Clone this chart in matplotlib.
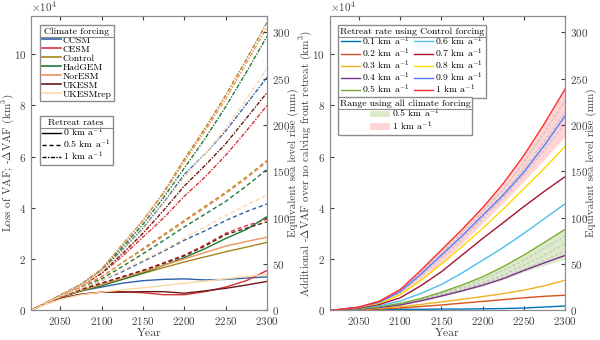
import matplotlib
matplotlib.use('Agg')
import matplotlib.pyplot as plt
from matplotlib.patches import Patch
from matplotlib.lines import Line2D
import numpy as np

plt.rcParams['font.family'] = 'serif'
plt.rcParams['font.serif'] = ['cmr10']
plt.rcParams['mathtext.fontset'] = 'cm'
plt.rcParams['axes.formatter.use_mathtext'] = True
plt.rcParams['axes.unicode_minus'] = False

years = [2015, 2025, 2050, 2075, 2100, 2125, 2150, 2175, 2200, 2225, 2250, 2275, 2300]
km3_per_mm = 362.0

forcings = ['CCSM', 'CESM', 'Control', 'HadGEM', 'NorESM', 'UKESM', 'UKESMrep']
forcing_colors = ['#2f62a8', '#d8333a', '#a8841c', '#1f7a34', '#f0955a', '#6a1a16', '#fdd7a2']

# loss of VAF (x1e4 km3), 0 km/a retreat
loss_0 = {
    'CCSM':     [0, 0.15, 0.50, 0.75, 0.90, 1.05, 1.15, 1.20, 1.22, 1.18, 1.20, 1.25, 1.30],
    'CESM':     [0, 0.15, 0.45, 0.62, 0.70, 0.72, 0.68, 0.60, 0.60, 0.72, 0.90, 1.15, 1.55],
    'Control':  [0, 0.15, 0.50, 0.75, 0.97, 1.20, 1.43, 1.66, 1.88, 2.08, 2.28, 2.46, 2.65],
    'HadGEM':   [0, 0.15, 0.50, 0.75, 0.95, 1.20, 1.45, 1.75, 2.05, 2.40, 2.80, 3.15, 3.65],
    'NorESM':   [0, 0.15, 0.50, 0.77, 1.00, 1.25, 1.50, 1.75, 2.00, 2.25, 2.50, 2.68, 2.85],
    'UKESM':    [0, 0.15, 0.45, 0.62, 0.70, 0.70, 0.72, 0.72, 0.66, 0.75, 0.85, 0.98, 1.12],
    'UKESMrep': [0, 0.13, 0.42, 0.60, 0.70, 0.79, 0.87, 0.96, 1.05, 1.13, 1.22, 1.31, 1.40],
}
# 0.5 km/a retreat
loss_05 = {
    'CCSM':     [0, 0.15, 0.52, 0.85, 1.15, 1.50, 1.90, 2.30, 2.73, 3.10, 3.50, 3.85, 4.15],
    'CESM':     [0, 0.15, 0.50, 0.80, 1.05, 1.30, 1.55, 1.85, 2.15, 2.55, 3.00, 3.30, 3.55],
    'Control':  [0, 0.15, 0.55, 0.90, 1.30, 1.85, 2.40, 2.95, 3.50, 4.05, 4.60, 5.20, 5.85],
    'HadGEM':   [0, 0.15, 0.55, 0.88, 1.22, 1.70, 2.20, 2.72, 3.25, 3.75, 4.25, 4.85, 5.50],
    'NorESM':   [0, 0.15, 0.55, 0.90, 1.30, 1.85, 2.35, 2.90, 3.45, 4.00, 4.55, 5.15, 5.80],
    'UKESM':    [0, 0.15, 0.50, 0.80, 1.05, 1.30, 1.55, 1.82, 2.12, 2.50, 2.95, 3.20, 3.45],
    'UKESMrep': [0, 0.15, 0.52, 0.85, 1.15, 1.55, 1.95, 2.35, 2.80, 3.25, 3.70, 4.10, 4.50],
}
# 1 km/a retreat
loss_1 = {
    'CCSM':     [0, 0.15, 0.56, 0.98, 1.55, 2.35, 3.20, 4.20, 5.30, 6.10, 7.00, 8.05, 9.10],
    'CESM':     [0, 0.15, 0.55, 0.95, 1.42, 2.10, 2.85, 3.60, 4.45, 5.20, 6.05, 7.00, 8.00],
    'Control':  [0, 0.15, 0.58, 1.00, 1.60, 2.55, 3.50, 4.60, 5.90, 7.10, 8.40, 9.80, 11.25],
    'HadGEM':   [0, 0.15, 0.57, 1.00, 1.58, 2.45, 3.35, 4.40, 5.55, 6.70, 7.95, 9.30, 10.70],
    'NorESM':   [0, 0.15, 0.58, 1.00, 1.60, 2.55, 3.50, 4.55, 5.80, 7.00, 8.25, 9.65, 11.05],
    'UKESM':    [0, 0.15, 0.55, 0.95, 1.45, 2.20, 3.00, 3.90, 4.85, 5.65, 6.50, 7.50, 8.50],
    'UKESMrep': [0, 0.15, 0.55, 0.95, 1.50, 2.30, 3.15, 4.15, 5.20, 6.10, 7.10, 8.25, 9.45],
}

# additional loss over no retreat, Control forcing (x1e4 km3)
rates = ['0.1', '0.2', '0.3', '0.4', '0.5', '0.6', '0.7', '0.8', '0.9', '1']
rate_colors = ['#0072bd', '#d95319', '#edb120', '#7e2f8e', '#77ac30',
               '#4dbeee', '#a2142f', '#ffd700', '#5b7cff', '#ff2a2a']
extra = {
    '0.1': [0, 0.00, 0.01, 0.02, 0.03, 0.03, 0.04, 0.04, 0.05, 0.06, 0.08, 0.12, 0.16],
    '0.2': [0, 0.00, 0.02, 0.04, 0.08, 0.14, 0.20, 0.27, 0.34, 0.41, 0.48, 0.54, 0.58],
    '0.3': [0, 0.01, 0.03, 0.07, 0.13, 0.22, 0.32, 0.42, 0.53, 0.64, 0.78, 0.95, 1.17],
    '0.4': [0, 0.01, 0.04, 0.10, 0.20, 0.36, 0.55, 0.75, 0.97, 1.23, 1.55, 1.85, 2.14],
    '0.5': [0, 0.01, 0.05, 0.13, 0.26, 0.45, 0.70, 0.98, 1.30, 1.70, 2.15, 2.65, 3.16],
    '0.6': [0, 0.01, 0.07, 0.17, 0.35, 0.65, 1.00, 1.45, 1.95, 2.45, 3.00, 3.58, 4.16],
    '0.7': [0, 0.01, 0.08, 0.22, 0.48, 0.95, 1.50, 2.15, 2.80, 3.42, 4.05, 4.65, 5.22],
    '0.8': [0, 0.02, 0.10, 0.27, 0.60, 1.15, 1.80, 2.48, 3.20, 3.95, 4.75, 5.55, 6.40],
    '0.9': [0, 0.02, 0.11, 0.31, 0.72, 1.40, 2.15, 2.90, 3.70, 4.50, 5.40, 6.45, 7.60],
    '1':   [0, 0.02, 0.12, 0.35, 0.80, 1.55, 2.35, 3.15, 4.00, 4.95, 6.05, 7.30, 8.65],
}
# range over all climate forcings
range05_low = [0, 0.01, 0.04, 0.10, 0.20, 0.35, 0.53, 0.73, 0.95, 1.20, 1.50, 1.75, 2.00]
range05_high = extra['0.5']
range05_members = [
    [0, 0.01, 0.05, 0.12, 0.24, 0.42, 0.65, 0.90, 1.20, 1.55, 1.95, 2.42, 2.90],
    [0, 0.01, 0.05, 0.11, 0.23, 0.40, 0.60, 0.83, 1.08, 1.38, 1.75, 2.15, 2.60],
    [0, 0.01, 0.04, 0.10, 0.22, 0.38, 0.57, 0.78, 1.02, 1.30, 1.60, 1.95, 2.30],
]
range1_low = [0, 0.02, 0.10, 0.27, 0.62, 1.20, 1.85, 2.60, 3.40, 4.20, 5.05, 5.90, 6.80]
range1_high = extra['1']
range1_members = [
    [0, 0.02, 0.11, 0.33, 0.76, 1.48, 2.25, 3.02, 3.85, 4.72, 5.78, 6.95, 8.20],
    [0, 0.02, 0.11, 0.32, 0.72, 1.40, 2.15, 2.90, 3.72, 4.55, 5.52, 6.60, 7.75],
    [0, 0.02, 0.10, 0.30, 0.68, 1.32, 2.02, 2.78, 3.58, 4.38, 5.30, 6.28, 7.30],
]

txt = '0.25'
edge = '0.55'
ymax = 11.5e4


def style(ax, axr, ylab, ylab_r, lx, rx):
    ax.set_xlim(2015, 2300)
    ax.set_ylim(0, ymax)
    ax.set_xticks([2050, 2100, 2150, 2200, 2250, 2300])
    ax.set_yticks(np.arange(0, 11e4, 2e4))
    ax.ticklabel_format(axis='y', style='sci', scilimits=(4, 4), useMathText=True)
    axr.set_ylim(0, ymax / km3_per_mm)
    axr.set_yticks(np.arange(0, 301, 50))
    ax.tick_params(direction='in', top=True, labelsize=8, colors=txt, length=3)
    axr.tick_params(direction='in', labelsize=8, colors=txt, length=3)
    for a in (ax, axr):
        for s in a.spines.values():
            s.set_color(edge)
    ax.yaxis.get_offset_text().set_fontsize(8)
    ax.yaxis.get_offset_text().set_color(txt)
    ax.set_xlabel('Year', fontsize=8.5, color=txt, labelpad=1)
    ax.set_ylabel(ylab, fontsize=8, color=txt)
    axr.set_ylabel(ylab_r, fontsize=8, color=txt)
    ax.yaxis.set_label_coords(lx, 0.5)
    axr.yaxis.set_label_coords(rx, 0.5)


fig = plt.figure(figsize=(6, 3.4), dpi=100)
ax1 = fig.add_axes([0.052, 0.088, 0.393, 0.865])
ax1r = ax1.twinx()
ax2 = fig.add_axes([0.55, 0.088, 0.392, 0.865])
ax2r = ax2.twinx()

legkw = dict(loc='upper left', fontsize=7, title_fontsize=7, handlelength=2.0,
             handletextpad=0.2, borderpad=0.2, fancybox=False,
             edgecolor=edge, framealpha=1)

# left panel
yr = np.array(years)
for name, c in zip(forcings, forcing_colors):
    ax1.plot(yr, np.array(loss_0[name]) * 1e4, '-', color=c, lw=1)
    ax1.plot(yr, np.array(loss_05[name]) * 1e4, '--', color=c, lw=1, dashes=(3, 2))
    ax1.plot(yr, np.array(loss_1[name]) * 1e4, '-.', color=c, lw=1, dashes=(3, 1, 1, 1))

style(ax1, ax1r, r'Loss of VAF; -$\Delta$VAF (km$^3$)', 'Equivalent sea level rise (mm)',
      -0.065, 1.089)

h1 = [Line2D([], [], color=c, lw=1.2) for c in forcing_colors]
leg1 = ax1.legend(h1, forcings, title='Climate forcing', labelspacing=0.02,
                  bbox_to_anchor=(0.015, 0.985), **legkw)
ax1.add_artist(leg1)
h2 = [Line2D([], [], color='k', lw=1, ls='-'),
      Line2D([], [], color='k', lw=1, ls='--', dashes=(3, 2)),
      Line2D([], [], color='k', lw=1, ls='-.', dashes=(3, 1, 1, 1))]
leg2 = ax1.legend(h2, [r'0 km a$^{-1}$', r'0.5 km a$^{-1}$', r'1 km a$^{-1}$'],
                  title='Retreat rates', labelspacing=-0.15,
                  bbox_to_anchor=(0.015, 0.675), **legkw)

# right panel
ax2.fill_between(yr, np.array(range05_low) * 1e4, np.array(range05_high) * 1e4,
                 color='#77ac30', alpha=0.25, lw=0)
ax2.fill_between(yr, np.array(range1_low) * 1e4, np.array(range1_high) * 1e4,
                 color='#ff2a2a', alpha=0.2, lw=0)
for m in range05_members + range1_members:
    ax2.plot(yr, np.array(m) * 1e4, '--', color='0.75', lw=0.7, dashes=(3, 2))
lines = []
for r, c in zip(rates, rate_colors):
    ln, = ax2.plot(yr, np.array(extra[r]) * 1e4, '-', color=c, lw=1)
    lines.append(ln)

style(ax2, ax2r, r'Additional -$\Delta$VAF over no calving front retreat (km$^3$)',
      'Equivalent sea level rise (mm)', -0.07, 1.089)

labels = [r'%s km a$^{-1}$' % r for r in rates]
leg3 = ax2.legend(lines, labels, title='Retreat rate using Control forcing', ncol=2,
                  columnspacing=0.4, labelspacing=-0.15,
                  bbox_to_anchor=(0.012, 0.985), **legkw)
ax2.add_artist(leg3)
p = [Patch(facecolor='#77ac30', alpha=0.25), Patch(facecolor='#ff2a2a', alpha=0.2)]
leg4 = ax2.legend(p, [r'0.5 km a$^{-1}$', r'1 km a$^{-1}$'],
                  title='Range using all climate forcing', labelspacing=-0.1,
                  bbox_to_anchor=(0.012, 0.74), **legkw)
leg4._legend_box.align = 'center'

# separator line under each legend title, like the original
fig.canvas.draw()
inv = fig.transFigure.inverted()
for leg in (leg1, leg2, leg3, leg4):
    fb = leg.get_frame().get_window_extent()
    tb = leg.get_title().get_window_extent()
    y = tb.y0 - 1.5
    (x0, yy), (x1, _) = inv.transform([(fb.x0, y), (fb.x1, y)])
    fig.add_artist(Line2D([x0, x1], [yy, yy], transform=fig.transFigure,
                          color=edge, lw=0.8, zorder=10))

fig.savefig('out.png', dpi=100)
